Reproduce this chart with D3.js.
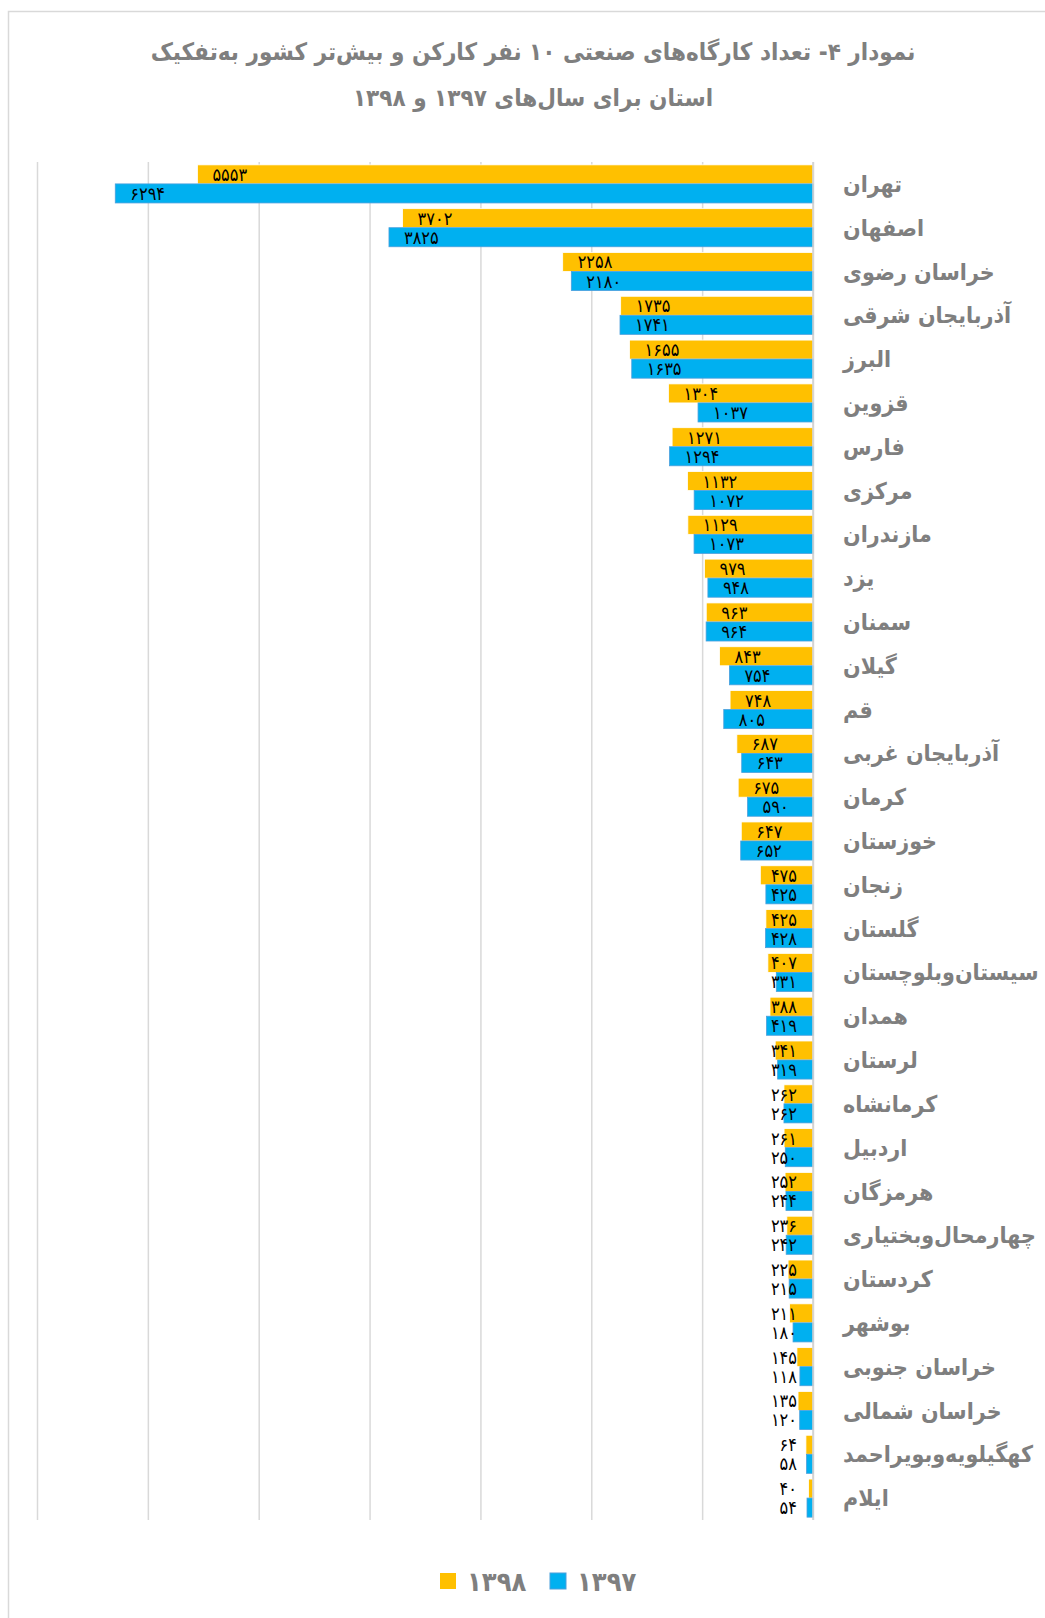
<!DOCTYPE html>
<html>
<head>
<meta charset="utf-8">
<script src="https://cdn.jsdelivr.net/npm/d3@7"></script>
<style>
  html, body { margin: 0; padding: 0; background: #fff; }
  svg { display: block; }
  text { font-family: "DejaVu Sans Condensed", "DejaVu Sans", sans-serif; }
</style>
</head>
<body>
<svg id="chart" width="1045" height="1618"></svg>
<script>
const titleLines = [
  "نمودار ۴- تعداد کارگاه‌های صنعتی ۱۰ نفر کارکن و بیش‌تر کشور به‌تفکیک",
  "استان برای سال‌های ۱۳۹۷ و ۱۳۹۸"
];
const provinces = [
  "تهران","اصفهان","خراسان رضوی","آذربایجان شرقی","البرز","قزوین","فارس","مرکزی",
  "مازندران","یزد","سمنان","گیلان","قم","آذربایجان غربی","کرمان","خوزستان","زنجان",
  "گلستان","سیستان‌وبلوچستان","همدان","لرستان","کرمانشاه","اردبیل","هرمزگان",
  "چهارمحال‌وبختیاری","کردستان","بوشهر","خراسان جنوبی","خراسان شمالی",
  "کهگیلویه‌وبویراحمد","ایلام"
];
const values1398 = [5553,3702,2258,1735,1655,1304,1271,1132,1129,979,963,843,748,687,675,647,475,425,407,388,341,262,261,252,236,225,211,145,135,64,40];
const values1397 = [6294,3825,2180,1741,1635,1037,1294,1072,1073,948,964,754,805,643,590,652,425,428,331,419,319,262,250,244,242,215,180,118,120,58,54];
const seriesNames = ["۱۳۹۸","۱۳۹۷"];
const seriesColors = ["#FFC000","#00B0F0"];
const gridTicks = [0,1000,2000,3000,4000,5000,6000,7000];

const faDigits = s => String(s).replace(/\d/g, d => "۰۱۲۳۴۵۶۷۸۹"[d]);

const svg = d3.select("#chart");

// frame
svg.append("rect").attr("x", 8.5).attr("y", 11.5).attr("width", 1200).attr("height", 1700)
  .attr("fill", "none").attr("stroke", "#d9d9d9").attr("stroke-width", 1.5);

// title
svg.selectAll("text.title").data(titleLines).join("text")
  .attr("class", "title")
  .attr("x", 533).attr("y", (d, i) => 60 + i * 46)
  .attr("text-anchor", "middle").attr("direction", "rtl")
  .attr("font-size", 24).attr("font-weight", "bold").attr("fill", "#7f7f7f")
  .text(d => d);

const x = d3.scaleLinear().domain([0, 7000]).range([813, 37]);
const y = d3.scaleBand().domain(provinces).range([162, 1520]);
const sub = d3.scaleBand().domain(seriesNames).range([0, y.bandwidth()]).paddingOuter(0.15);

// gridlines
const grid = svg.append("g").attr("transform", `translate(0,${162})`)
  .call(d3.axisBottom(x).tickValues(gridTicks).tickSize(1520 - 162).tickFormat(""));
grid.select(".domain").remove();
grid.selectAll(".tick line").attr("stroke", "#d9d9d9").attr("stroke-width", 1.5);

const data = provinces.map((p, i) => ({ p, vals: [values1398[i], values1397[i]] }));

const groups = svg.selectAll("g.row").data(data).join("g")
  .attr("class", "row")
  .attr("transform", d => `translate(0,${y(d.p)})`);

groups.each(function (d) {
  const g = d3.select(this);
  d.vals.forEach((v, si) => {
    const s = seriesNames[si];
    g.append("rect")
      .attr("x", x(v)).attr("y", sub(s))
      .attr("width", x(0) - x(v)).attr("height", sub.bandwidth())
      .attr("fill", seriesColors[si])
      .attr("stroke", si === 1 ? "#4a9fdc" : "#ffffff").attr("stroke-width", 0.8);
    const t = g.append("text")
      .attr("y", sub(s) + sub.bandwidth() / 2)
      .attr("dy", "0.36em")
      .attr("font-size", 18).attr("fill", "#000")
      .text(faDigits(v));
    const w = t.node().getComputedTextLength();
    const left = Math.min(x(v) + 15, 797 - w);
    t.attr("x", left);
  });
  g.append("text")
    .attr("x", 843).attr("y", y.bandwidth() / 2).attr("dy", "0.35em")
    .attr("text-anchor", "end").attr("direction", "rtl")
    .attr("font-size", 23).attr("font-weight", "bold").attr("fill", "#7f7f7f")
    .text(d.p);
});

// baseline
svg.append("line").attr("x1", x(0)).attr("x2", x(0)).attr("y1", 162).attr("y2", 1520)
  .attr("stroke", "#d0d0d0").attr("stroke-width", 1.5);

// legend
const legendItems = [
  { name: seriesNames[0], color: seriesColors[0], sx: 440, tx: 467 },
  { name: seriesNames[1], color: seriesColors[1], sx: 550, tx: 577 }
];
const lg = svg.append("g");
legendItems.forEach((it, i) => {
  lg.append("rect").attr("x", it.sx).attr("y", 1573).attr("width", 16).attr("height", 16)
    .attr("fill", it.color).attr("stroke", i === 1 ? "#4a9fdc" : "none");
  lg.append("text").attr("x", it.tx).attr("y", 1581).attr("dy", "0.36em")
    .attr("font-size", 27).attr("font-weight", "bold").attr("fill", "#7f7f7f")
    .text(it.name);
});
</script>
</body>
</html>
